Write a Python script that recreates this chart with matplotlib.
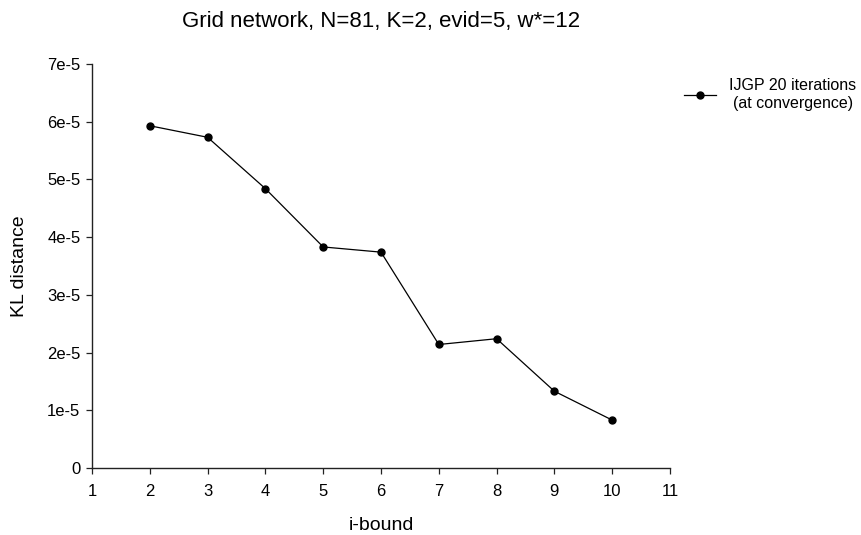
import numpy as np
import matplotlib.pyplot as plt

plt.rcParams['font.family'] = ['Liberation Sans', 'DejaVu Sans']

i_bound = [2, 3, 4, 5, 6, 7, 8, 9, 10]
kl_dist = [5.93e-5, 5.73e-5, 4.84e-5, 3.83e-5, 3.74e-5, 2.14e-5, 2.24e-5, 1.33e-5, 0.83e-5]

x_ticks = [1, 2, 3, 4, 5, 6, 7, 8, 9, 10, 11]
y_ticks = [0, 1e-5, 2e-5, 3e-5, 4e-5, 5e-5, 6e-5, 7e-5]
y_ticklabels = ['0', '1e-5', '2e-5', '3e-5', '4e-5', '5e-5', '6e-5', '7e-5']

fig = plt.figure(figsize=(8.61, 5.35), dpi=100)
ax = fig.add_axes([92/861, 1 - 468/535, 578/861, 404/535])

ax.plot(i_bound, kl_dist, color='black', linewidth=0.9, marker='o', markersize=5,
        label='IJGP 20 iterations\n(at convergence)')

ax.set_xlim(1, 11)
ax.set_ylim(0, 7e-5)
ax.set_xticks(x_ticks)
ax.set_yticks(y_ticks)
ax.set_yticklabels(y_ticklabels)

for side in ['top', 'right']:
    ax.spines[side].set_visible(False)
for side in ['left', 'bottom']:
    ax.spines[side].set_color('#222222')
    ax.spines[side].set_linewidth(1.0)

ax.tick_params(axis='both', direction='out', length=4.3, width=0.9, color='#222222',
               labelsize=12)
ax.tick_params(axis='x', pad=7)
ax.tick_params(axis='y', pad=4)

ax.set_xlabel('i-bound', fontsize=14)
ax.set_ylabel('KL distance', fontsize=14)
ax.xaxis.set_label_coords(0.5, -0.121)
ax.yaxis.set_label_coords(-0.111, 0.5)

fig.text(381/861, 1 - 22/535, 'Grid network, N=81, K=2, evid=5, w*=12',
         ha='center', va='center', fontsize=16)

leg = ax.legend(loc='upper left', bbox_to_anchor=(1.0, 1.0), frameon=False, fontsize=11.5,
                handlelength=2.0, handletextpad=0.8)
for t in leg.get_texts():
    t.set_multialignment('center')

fig.savefig('out.png', dpi=100)
